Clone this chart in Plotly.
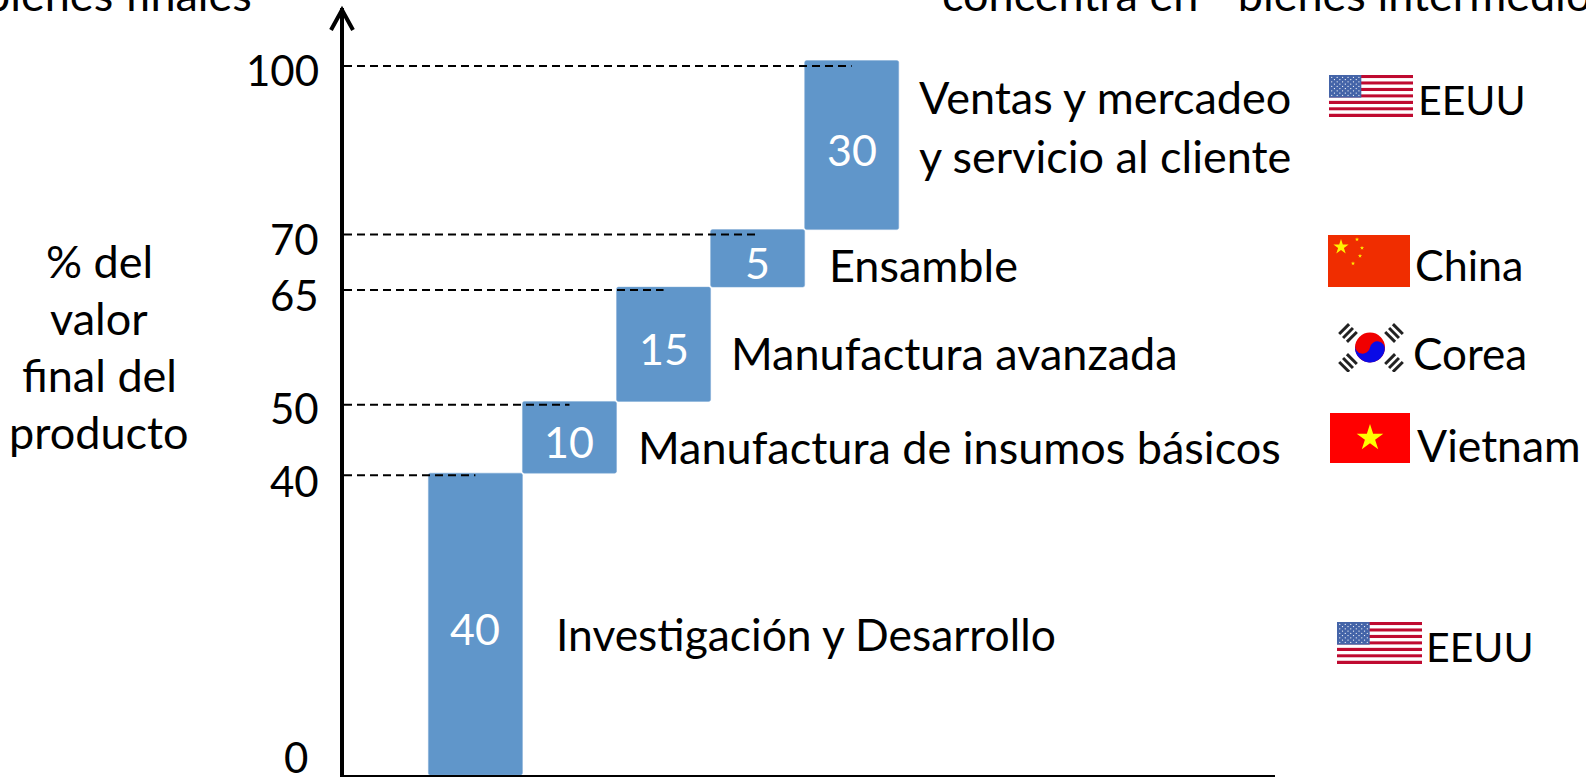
import base64
import math
import plotly.graph_objects as go

# ---------- data ----------
stages = ["Investigación y Desarrollo", "Manufactura de insumos básicos",
          "Manufactura avanzada", "Ensamble", "Ventas y mercadeo<br>y servicio al cliente"]
stage_values = [40, 10, 15, 5, 30]
cumulative_ticks = [0, 40, 50, 65, 70, 100]
countries = ["EEUU", "Vietnam", "Corea", "China", "EEUU"]
y_title_lines = ["% del", "valor", "final del", "producto"]
# The source is a schematic, not to scale: height of each band on the drawn axis
drawn_band_heights = [42.5, 10.1, 16.1, 8.1, 23.8]
# the hand-placed dashed leaders sit a little below the tops of the boxes
leader_levels = [42.2, 52.15, 68.3, 76.1, 99.85]

W, H = 1586, 777
L, R, T, B = 344, 311, 8, 2
FONT = "Lato"
BLUE = "#6096CA"


def px(x):
    return (x - L) / (W - L - R)


def py(y):
    return 1 - (y - T) / (H - T - B)


def svg_uri(s):
    return "data:image/svg+xml;base64," + base64.b64encode(s.encode()).decode()


def us_flag():
    stripes = "".join(
        f'<rect y="{i*10}" width="247" height="10" fill="{"#BF0A30" if i % 2 == 0 else "#FFFFFF"}"/>'
        for i in range(13))
    stars = ""
    for r in range(9):
        n = 6 if r % 2 == 0 else 5
        off = 8 if r % 2 == 0 else 16
        for c in range(n):
            stars += f'<circle cx="{off+c*16}" cy="{7+r*7}" r="1.9" fill="#fff"/>'
    return (f'<svg xmlns="http://www.w3.org/2000/svg" viewBox="0 0 247 130" preserveAspectRatio="none">'
            f'{stripes}<rect width="95" height="70" fill="#4464A8"/>{stars}</svg>')


def star(cx, cy, r, fill):
    pts = []
    for i in range(10):
        a = -math.pi / 2 + i * math.pi / 5
        rr = r if i % 2 == 0 else r * 0.382
        pts.append(f"{cx+rr*math.cos(a):.2f},{cy+rr*math.sin(a):.2f}")
    return f'<polygon points="{" ".join(pts)}" fill="{fill}"/>'


def china_flag():
    return ('<svg xmlns="http://www.w3.org/2000/svg" viewBox="0 0 82 52" preserveAspectRatio="none">'
            '<rect width="82" height="52" fill="#F02D00"/>'
            + star(13, 12, 8, "#FFF200") + star(29, 4.5, 2.2, "#FFF200") + star(34, 13, 2.2, "#FFF200")
            + star(32, 21, 2.2, "#FFF200") + star(25, 28.5, 2.2, "#FFF200") + '</svg>')


def vietnam_flag():
    return ('<svg xmlns="http://www.w3.org/2000/svg" viewBox="0 0 80 50" preserveAspectRatio="none">'
            '<rect width="80" height="50" fill="#FF0000"/>' + star(40, 25, 14, "#FFFF00") + '</svg>')


def korea_flag():
    def trig(cx, cy, ang):
        bars = "".join(f'<rect x="-7" y="{y}" width="14" height="3" fill="#222"/>' for y in (-7, -1.5, 4))
        return f'<g transform="translate({cx},{cy}) rotate({ang})">{bars}</g>'
    return ('<svg xmlns="http://www.w3.org/2000/svg" viewBox="0 0 70 49">'
            '<rect width="70" height="49" fill="#fff"/>'
            '<circle cx="35" cy="24.5" r="15" fill="#F00000"/>'
            '<path d="M20 24.5 A15 15 0 0 0 50 24.5 A7.5 7.5 0 0 0 35 24.5 A7.5 7.5 0 0 1 20 24.5Z" fill="#0A0AE6" transform="rotate(10 35 24.5)"/>'
            + trig(13, 10, -45) + trig(59, 10, 45) + trig(13, 40, 45) + trig(59, 40, -45) + '</svg>')


# ---------- geometry derived from the data ----------
levels = [0]
for h in drawn_band_heights:
    levels.append(levels[-1] + h)
bases = levels[:-1]
positions = list(range(len(stage_values)))
x_low = -1.397

fig = go.Figure()

fig.add_bar(x=positions, y=drawn_band_heights, base=bases, width=1,
            marker=dict(color=BLUE, line=dict(color="#7FABD6", width=0.5), cornerradius=2),
            hoverinfo="skip", showlegend=False)

# dashed leader lines from the axis to the centre of each step
for p, lev in zip(positions, leader_levels):
    fig.add_scatter(x=[x_low, p], y=[lev, lev], mode="lines", showlegend=False, hoverinfo="skip",
                    line=dict(color="black", width=2, dash="8px,5px"))

ann = []


def text(x, y, s, anchor="left", size=45, **kw):
    ann.append(dict(xref="paper", yref="paper", x=px(x), y=py(y), text=s, showarrow=False,
                    xanchor=anchor, yanchor="middle", align="center" if anchor == "center" else anchor,
                    font=dict(family=FONT, size=size, color="black"), **kw))


# value labels inside the boxes
for p, b, h, v in zip(positions, bases, drawn_band_heights, stage_values):
    ann.append(dict(x=p, y=b + h / 2, text=str(v), showarrow=False, yshift=-4,
                    font=dict(family=FONT, size=43, color="white")))

# axis tick labels (cumulative %)
tick_label_x = [310, 321, 321, 321, 321, 321]
tick_label_y = [757, 481, 408, 295, 239, 70]
for t, x, y in zip(cumulative_ticks, tick_label_x, tick_label_y):
    text(x, y, str(t), "right", size=42)

for line, y in zip(y_title_lines, [261, 318, 375, 432]):
    text(99, y, line, "center")

stage_x = [554, 636, 729, 827, 1105]
stage_y = [633, 447, 353, 265, 127]
stage_anchor = ["left", "left", "left", "left", "center"]
stage_size = [44.4, 45, 45, 45, 45]
for s, x, y, a, z in zip(stages, stage_x, stage_y, stage_anchor, stage_size):
    text(x, y, s, a, size=z)

country_x = [1424, 1415, 1411, 1413, 1416]
country_y = [646, 444, 353, 264, 99]
country_size = [41, 44.5, 44, 43, 41]
for s, x, y, z in zip(countries, country_x, country_y, country_size):
    text(x, y, s, size=z)

# text cropped by the edges of the picture
text(254, -6, "bienes finales", "right")
text(940, -6, "concentra en  “bienes intermedios”")

# flags
flag_boxes = [
    (us_flag(), 1337, 622, 85, 42), (vietnam_flag(), 1330, 413, 80, 50),
    (korea_flag(), 1335, 323, 70, 49), (china_flag(), 1328, 235, 82, 52),
    (us_flag(), 1329, 75, 84, 42),
]
images = [dict(source=svg_uri(s), xref="paper", yref="paper", x=px(x), y=py(y),
               sizex=w / (W - L - R), sizey=h / (H - T - B), sizing="stretch",
               xanchor="left", yanchor="top", layer="above")
          for s, x, y, w, h in flag_boxes]

arrow = dict(type="path", xref="paper", yref="paper",
             path=f"M {px(331)} {py(30)} L {px(342)} {py(10)} L {px(353)} {py(30)}",
             line=dict(color="black", width=4))

fig.update_layout(
    width=W, height=H, margin=dict(l=L, r=R, t=T, b=B), autosize=False,
    paper_bgcolor="white", plot_bgcolor="white", showlegend=False,
    annotations=ann, images=images, shapes=[arrow],
    xaxis=dict(range=[x_low, 8.50], showgrid=False, zeroline=False, showticklabels=False, ticks="",
               showline=True, linecolor="black", linewidth=2, fixedrange=True),
    yaxis=dict(range=[0, 108], showgrid=False, zeroline=False, showticklabels=False, ticks="",
               showline=True, linecolor="black", linewidth=4, fixedrange=True),
)

fig.write_html("out.html", config=dict(displayModeBar=False),
               post_script="document.body.style.margin='0';document.body.style.overflow='hidden';")
